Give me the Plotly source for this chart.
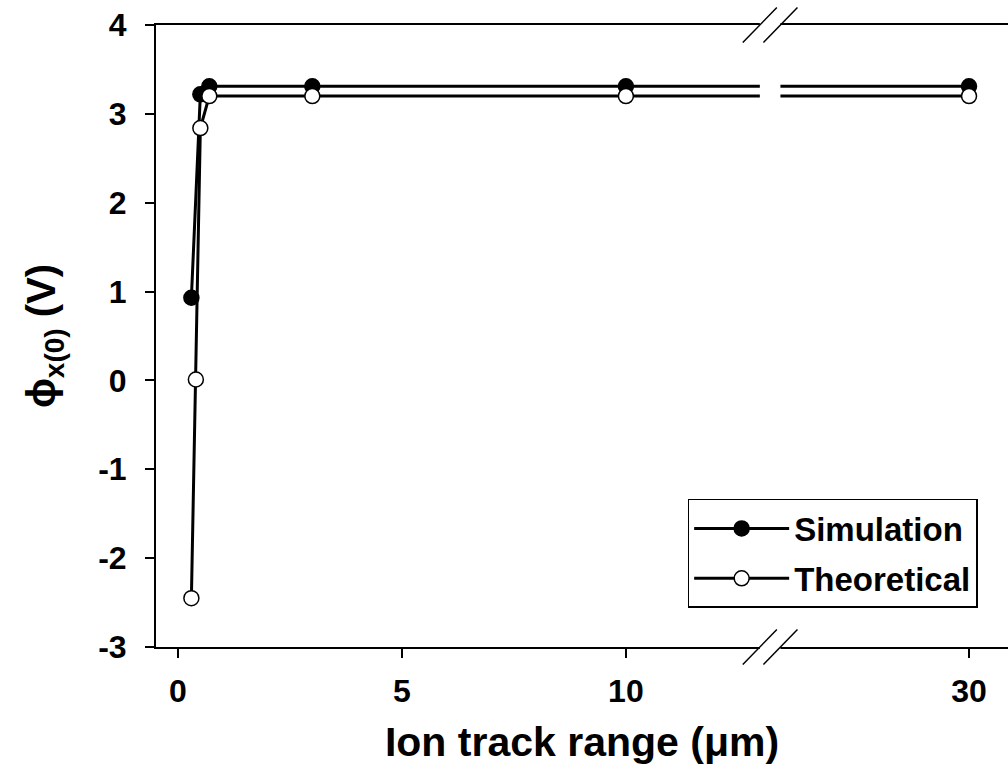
import plotly.graph_objects as go

# Ion track range (um) and surface potential phi_x(0) (V)
sim_range = [0.3, 0.5, 0.7, 3, 10, 30]
sim_phi = [0.93, 3.22, 3.31, 3.31, 3.31, 3.31]

theo_range = [0.3, 0.4, 0.5, 0.7, 3, 10, 30]
theo_phi = [-2.45, 0.01, 2.84, 3.20, 3.20, 3.20, 3.20]

x_ticks = [0, 5, 10, 30]
y_ticks = [4, 3, 2, 1, 0, -1, -2, -3]

# Broken x axis: the span between the break and the last segment is removed
BREAK_POS = 13.22      # axis position of the break
BREAK_SKIP = 12.34     # amount of range removed after the break
GAP_HALF = 0.23        # half width of the white gap at the break
SLASH_DX = 0.38
SLASH_DY = 0.028


def to_axis(v):
    return v if v <= BREAK_POS else v - BREAK_SKIP


FONT = "Liberation Sans, Arial, sans-serif"

fig = go.Figure()
fig.add_trace(go.Scatter(
    x=[to_axis(v) for v in sim_range], y=sim_phi, name="Simulation",
    mode="lines+markers", legendgroup="sim",
    line=dict(color="black", width=3),
    marker=dict(symbol="circle", size=15, color="black",
                line=dict(color="black", width=1.5)),
))
fig.add_trace(go.Scatter(
    x=[to_axis(v) for v in theo_range], y=theo_phi, name="Theoretical",
    mode="lines+markers", legendgroup="theo",
    line=dict(color="black", width=3),
    marker=dict(symbol="circle", size=15, color="white",
                line=dict(color="black", width=1.5)),
))

shapes = [
    # white gap across lines and axis frame at the break
    dict(type="rect", xref="x", yref="paper",
         x0=BREAK_POS - GAP_HALF, x1=BREAK_POS + GAP_HALF, y0=-0.01, y1=1.01,
         fillcolor="white", line=dict(width=0), layer="above"),
]
for yb in (0, 1):
    for edge in (BREAK_POS - GAP_HALF, BREAK_POS + GAP_HALF):
        shapes.append(dict(
            type="line", xref="x", yref="paper",
            x0=edge - SLASH_DX, y0=yb - SLASH_DY,
            x1=edge + SLASH_DX, y1=yb + SLASH_DY,
            line=dict(color="black", width=1.5), layer="above"))

fig.update_layout(
    width=1008, height=770,
    margin=dict(l=156, r=0, t=25, b=123),
    paper_bgcolor="white", plot_bgcolor="white",
    font=dict(family=FONT, color="black", size=31, weight="bold"),
    showlegend=True,
    legend=dict(
        x=0.624, y=0.238, xanchor="left", yanchor="top",
        bordercolor="black", borderwidth=1.5, bgcolor="white",
        font=dict(family=FONT, size=33, weight="bold"),
        itemwidth=95, traceorder="grouped", tracegroupgap=4,
    ),
    shapes=shapes,
)

fig.update_xaxes(
    range=[-0.49, 18.53],
    tickvals=[to_axis(v) for v in x_ticks],
    ticktext=[str(v) for v in x_ticks],
    ticks="outside", ticklen=9, tickwidth=1.5, tickcolor="black",
    ticklabelstandoff=6,
    showline=True, linecolor="black", linewidth=2, mirror=True,
    showgrid=False, zeroline=False,
    tickfont=dict(size=32, weight="bold"),
    title=dict(text="Ion track range (μm)",
               font=dict(size=41, weight="bold"), standoff=19),
)
fig.update_yaxes(
    range=[-3, 4],
    tickvals=y_ticks,
    ticktext=[str(v) for v in y_ticks],
    ticks="outside", ticklen=9, tickwidth=1.5, tickcolor="black",
    ticklabelstandoff=12,
    showline=True, linecolor="black", linewidth=2, mirror=False,
    showgrid=False, zeroline=False,
    tickfont=dict(size=32, weight="bold"),
    title=dict(text="ϕ<sub>x(0)</sub> (V)",
               font=dict(size=40, weight="bold"), standoff=30),
)

fig.write_html("out.html")
